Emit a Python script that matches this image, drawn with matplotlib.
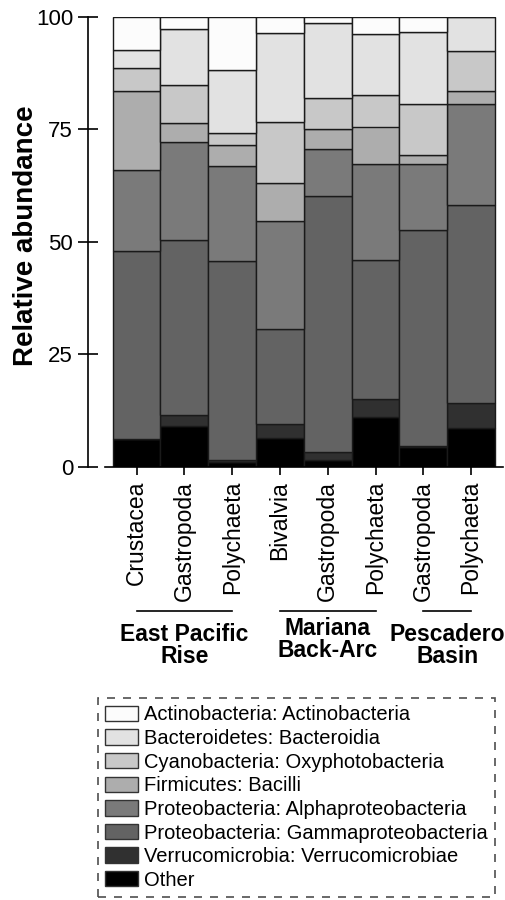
import matplotlib
matplotlib.use("Agg")
import matplotlib.pyplot as plt
import numpy as np

plt.rcParams['font.family'] = ['Liberation Sans', 'DejaVu Sans']

# ---- data ----
samples = ["Crustacea", "Gastropoda", "Polychaeta", "Bivalvia", "Gastropoda",
           "Polychaeta", "Gastropoda", "Polychaeta"]
groups = ["East Pacific\nRise", "Mariana\nBack-Arc", "Pescadero\nBasin"]
group_members = [[0, 1, 2], [3, 4, 5], [6, 7]]

taxa = ["Other",
        "Verrucomicrobia: Verrucomicrobiae",
        "Proteobacteria: Gammaproteobacteria",
        "Proteobacteria: Alphaproteobacteria",
        "Firmicutes: Bacilli",
        "Cyanobacteria: Oxyphotobacteria",
        "Bacteroidetes: Bacteroidia",
        "Actinobacteria: Actinobacteria"]

other      = [6.2, 9.1, 1.0, 6.3, 1.6, 11.0, 4.3, 8.5]
verruco    = [0.0, 2.3, 0.6, 3.2, 1.6, 4.0, 0.4, 5.6]
gamma      = [41.7, 39.0, 44.1, 21.0, 57.0, 30.9, 48.0, 44.0]
alpha      = [18.0, 21.7, 21.1, 24.1, 10.3, 21.3, 14.5, 22.4]
bacilli    = [17.5, 4.2, 4.8, 8.4, 4.5, 8.4, 2.1, 3.0]
oxyphoto   = [5.3, 8.5, 2.5, 13.5, 6.9, 7.1, 11.4, 8.9]
bacteroidia = [3.8, 12.5, 14.0, 19.9, 16.8, 13.5, 15.8, 7.6]
actino     = [7.5, 2.7, 11.9, 3.6, 1.3, 3.8, 3.5, 0.0]

series = [other, verruco, gamma, alpha, bacilli, oxyphoto, bacteroidia, actino]
colors = ["#000000", "#303030", "#636363", "#7a7a7a", "#adadad", "#c8c8c8",
          "#e2e2e2", "#fcfcfc"]

yticks = [0, 25, 50, 75, 100]

# ---- figure ----
W, H = 506, 900
fig = plt.figure(figsize=(W / 100, H / 100), dpi=100)

def px(x0, y_top, x1, y_bot):
    return [x0 / W, 1 - y_bot / H, (x1 - x0) / W, (y_bot - y_top) / H]

ax = fig.add_axes(px(105, 16.7, 503, 466.7))

x = np.arange(len(samples))
bottom = np.zeros(len(samples))
handles = []
for vals, col, name in zip(series, colors, taxa):
    b = ax.bar(x, vals, width=1.0, bottom=bottom, color=col,
               edgecolor="#1a1a1a", linewidth=1.0, label=name)
    handles.append(b)
    bottom += np.array(vals)

bar_px = 47.8
ax.set_xlim(-0.5 - 7.7 / bar_px, len(samples) - 0.5 + 8 / bar_px)
ax.set_ylim(0, 100)

for s in ["top", "right"]:
    ax.spines[s].set_visible(False)
ax.spines["left"].set_position(("outward", 12.2))
ax.spines["left"].set_bounds(0, 100)
ax.spines["left"].set_linewidth(1.2)
ax.spines["bottom"].set_linewidth(1.2)

ax.set_yticks(yticks)
ax.set_yticklabels([str(t) for t in yticks])
ax.tick_params(axis="y", direction="inout", length=14.4, width=1.2,
               labelsize=16, pad=3.6)
ax.set_xticks(x)
ax.set_xticklabels(samples, rotation=90)
ax.tick_params(axis="x", direction="out", length=6, width=1.2,
               labelsize=16.5, pad=4.3)

ax.set_ylabel("Relative abundance", fontsize=20, fontweight="bold")
ax.yaxis.set_label_coords(-0.165, 0.513)

# group lines and labels
trans = ax.get_xaxis_transform()
line_y = (466.7 - 610.5) / 450
label_tops = [(466.7 - 623) / 450, (466.7 - 617) / 450, (466.7 - 623) / 450]
for g, members, ty in zip(groups, group_members, label_tops):
    ax.plot([members[0], members[-1]], [line_y, line_y], color="black",
            linewidth=1.2, transform=trans, clip_on=False)
    ax.text(np.mean(members), ty, g, transform=trans, ha="center", va="top",
            fontsize=16.5, fontweight="bold", linespacing=0.93)

# legend
leg = fig.legend(handles[::-1], taxa[::-1], loc="upper left",
                 bbox_to_anchor=(98.3 / W, 1 - 698.3 / H),
                 borderaxespad=0, fontsize=14.5, frameon=True,
                 fancybox=False, handlelength=1.64, handleheight=0.8,
                 handletextpad=0.28, borderpad=0.35, labelspacing=0.23)
frame = leg.get_frame()
frame.set_edgecolor("#222222")
frame.set_linewidth(1.2)
frame.set_linestyle((0, (4.8, 4.8)))
for p in leg.get_patches():
    p.set_edgecolor("#333333")
    p.set_linewidth(1.0)

fig.savefig("out.png", dpi=100)
